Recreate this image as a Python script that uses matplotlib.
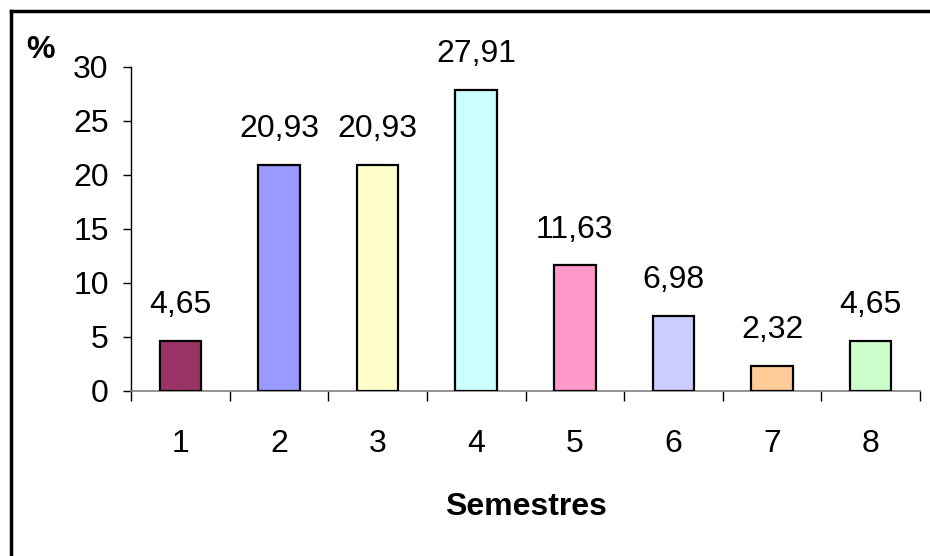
import matplotlib
matplotlib.use("Agg")
import matplotlib.pyplot as plt
from matplotlib.lines import Line2D
import numpy as np

plt.rcParams['font.family'] = ['Liberation Sans', 'DejaVu Sans']

semestres = ['1', '2', '3', '4', '5', '6', '7', '8']
valores = [4.65, 20.93, 20.93, 27.91, 11.63, 6.98, 2.32, 4.65]
cores = ['#993366', '#9999FF', '#FFFFCC', '#CCFFFF',
         '#FF99CC', '#CCCCFF', '#FFCC99', '#CCFFCC']
y_ticks = [0, 5, 10, 15, 20, 25, 30]

FS = 23

fig = plt.figure(figsize=(9.3, 5.56), dpi=100)
ax = fig.add_axes([131 / 930, 1 - 391 / 556, (920 - 131) / 930, (391 - 67) / 556])

x = np.arange(len(semestres))
ax.bar(x, valores, width=0.42, color=cores, edgecolor='black', linewidth=1.6, zorder=3)

for xi, v in zip(x, valores):
    ax.annotate(f"{v:.2f}".replace('.', ','), (xi, v), xytext=(0, 15),
                textcoords='offset points', ha='center', va='bottom', fontsize=FS)

ax.set_xlim(-0.5, len(semestres) - 0.5)
ax.set_ylim(0, 30)
ax.set_yticks(y_ticks)
ax.set_yticklabels([str(t) for t in y_ticks], fontsize=FS)
ax.set_xticks(x)
ax.set_xticklabels(semestres, fontsize=FS)
ax.set_xticks(np.arange(-0.5, len(semestres)), minor=True)

ax.tick_params(axis='x', which='major', length=0, pad=27)
ax.tick_params(axis='x', which='minor', length=7, width=1, color='black', direction='out')
ax.tick_params(axis='y', length=6, width=1, color='black', direction='out', pad=10)

for s in ['top', 'right']:
    ax.spines[s].set_visible(False)
ax.spines['left'].set_color('black')
ax.spines['left'].set_linewidth(1)
ax.spines['bottom'].set_color('#808080')
ax.spines['bottom'].set_linewidth(1.2)

ax.set_xlabel('Semestres', fontsize=FS, fontweight='bold', labelpad=24)
fig.text(40 / 930, 1 - 50 / 556, '%', fontsize=FS, fontweight='bold',
         ha='center', va='center')

# frame lines along the top and left edge of the figure
fig.add_artist(Line2D([11 / 930, 1.0], [1 - 11 / 556, 1 - 11 / 556],
                      transform=fig.transFigure, color='black', linewidth=2.5))
fig.add_artist(Line2D([11 / 930, 11 / 930], [0.0, 1 - 11 / 556],
                      transform=fig.transFigure, color='black', linewidth=2.5))

fig.savefig('out.png', dpi=100)
